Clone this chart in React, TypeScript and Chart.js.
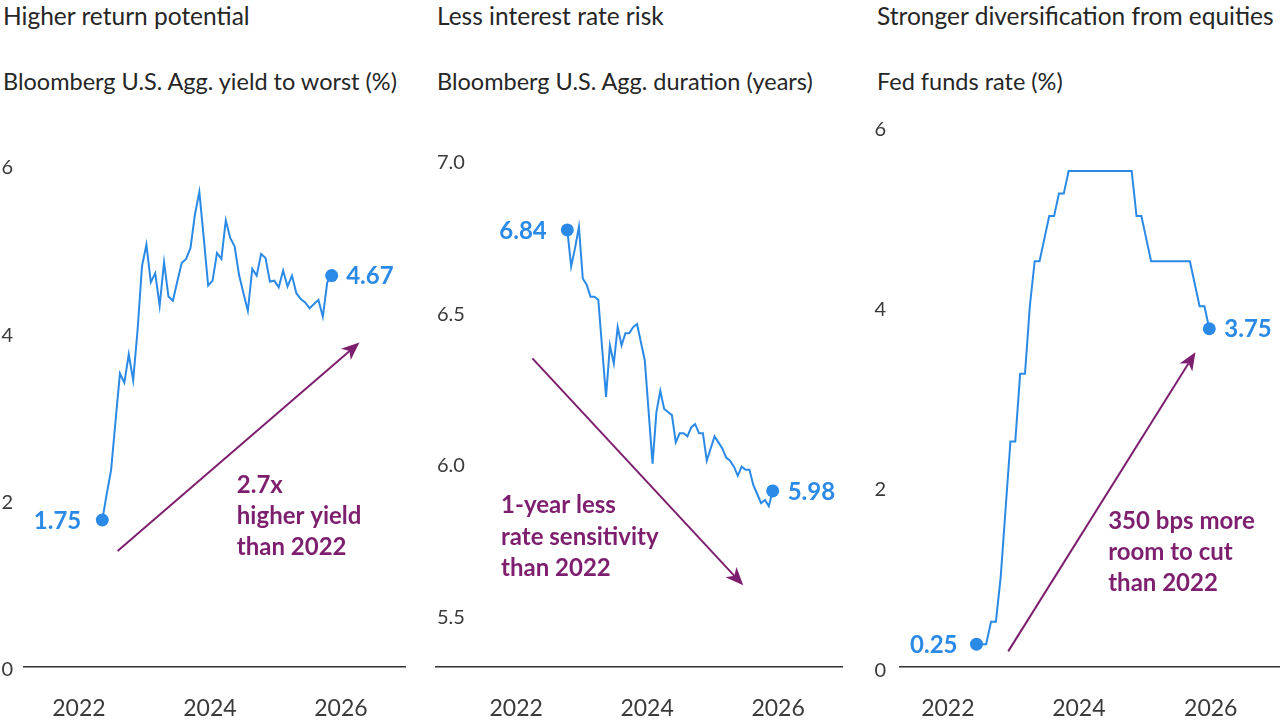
import React, { useEffect, useRef } from 'react';
import { Chart, registerables } from 'chart.js';

Chart.register(...registerables);

const FONT = 'Lato, "Open Sans", sans-serif';
const BLUE = '#2a8ae6';
const PURPLE = '#7d1f6e';
const TITLE_COLOR = '#262626';
const AXIS_TEXT = '#3a3a3a';
const AXIS_LINE = '#333333';

const yearLabels = ['2022', '2024', '2026'];

// Panel 1 – Bloomberg U.S. Agg. yield to worst (%)
const yieldValues = [
  1.75, 2.06, 2.35, 2.93, 3.5, 3.39, 3.73, 3.42, 4.02, 4.78, 5.04, 4.59, 4.7, 4.31, 4.83, 4.42, 4.37, 4.6,
  4.82, 4.87, 5.0, 5.4, 5.67, 5.12, 4.55, 4.61, 4.94, 4.87, 5.33, 5.12, 5.02, 4.68, 4.46, 4.25, 4.75, 4.67,
  4.93, 4.88, 4.6, 4.61, 4.53, 4.73, 4.54, 4.67, 4.46, 4.39, 4.35, 4.28, 4.33, 4.38, 4.18, 4.59, 4.67,
];
const yieldYearTickAt = [-5.3, 24.4, 54.1];
const yieldAxisTicks = [0, 2, 4, 6];

// Panel 2 – Bloomberg U.S. Agg. duration (years)
const durationValues = [
  6.84, 6.72, 6.78, 6.85, 6.68, 6.66, 6.62, 6.62, 6.61, 6.45, 6.29, 6.46, 6.4, 6.52, 6.46, 6.5, 6.5, 6.52,
  6.53, 6.47, 6.41, 6.24, 6.07, 6.24, 6.31, 6.25, 6.24, 6.23, 6.14, 6.17, 6.17, 6.16, 6.19, 6.2, 6.17, 6.17,
  6.08, 6.12, 6.16, 6.14, 6.12, 6.09, 6.08, 6.06, 6.03, 6.06, 6.05, 6.05, 6.0, 5.97, 5.94, 5.95, 5.93, 5.98,
];
const durationYearTickAt = [-13.2, 20.6, 54.4];
const durationAxisTicks = [5.5, 6.0, 6.5, 7.0];

// Panel 3 – Fed funds rate (%), month-end upper bound, Dec 2021 – Dec 2025
const fedFundsValues = [
  0.25, 0.25, 0.25, 0.5, 0.5, 1.0, 1.75, 2.5, 2.5, 3.25, 3.25, 4.0, 4.5, 4.5, 4.75, 5.0, 5.0, 5.25, 5.25,
  5.5, 5.5, 5.5, 5.5, 5.5, 5.5, 5.5, 5.5, 5.5, 5.5, 5.5, 5.5, 5.5, 5.5, 5.0, 5.0, 4.75, 4.5, 4.5, 4.5, 4.5,
  4.5, 4.5, 4.5, 4.5, 4.5, 4.25, 4.0, 4.0, 3.75,
];
const fedYearTickAt = [-5.9, 21.1, 48.3];
const fedAxisTicks = [0, 2, 4, 6];

const titles = ['Higher return potential', 'Less interest rate risk', 'Stronger diversification from equities'];
const subtitles = [
  'Bloomberg U.S. Agg. yield to worst (%)',
  'Bloomberg U.S. Agg. duration (years)',
  'Fed funds rate (%)',
];
const startLabels = ['1.75', '6.84', '0.25'];
const endLabels = ['4.67', '5.98', '3.75'];
const calloutLines = [
  ['2.7x', 'higher yield', 'than 2022'],
  ['1-year less', 'rate sensitivity', 'than 2022'],
  ['350 bps more', 'room to cut', 'than 2022'],
];

type Pt = [number, number];

interface PanelSpec {
  left: number;
  top: number;
  width: number;
  height: number;
  values: number[];
  yearTickAt: number[];
  axisTicks: number[];
  xMin: number;
  xMax: number;
  yMin: number;
  yMax: number;
  padLeft: number;
  padRight: number;
  padTop: number;
  yAxisWidth: number;
  xAxisHeight: number;
  mirror: boolean;
  yTickPadding: number;
  yLabelOffset: number;
  decimals: number;
  arrowFrom: Pt;
  arrowTo: Pt;
  textAt: Pt;
  lineGap: number;
  startGap: number;
  endGap: number;
  textLeft: number;
  idx: number;
}

const panels: PanelSpec[] = [
  {
    idx: 0, left: 0, top: 100, width: 430, height: 620,
    values: yieldValues, yearTickAt: yieldYearTickAt, axisTicks: yieldAxisTicks,
    xMin: -17.75, xMax: 68.74, yMin: 0, yMax: 6,
    padLeft: 0, padRight: 24.5, padTop: 64.3, yAxisWidth: 24, xAxisHeight: 53.5,
    mirror: false, yTickPadding: 11, yLabelOffset: 3.5, decimals: 0,
    arrowFrom: [3.47, 1.38], arrowTo: [58.3, 3.87], textAt: [30.5, 2.16], lineGap: 31,
    startGap: 21, endGap: 14.5, textLeft: 3,
  },
  {
    idx: 1, left: 430, top: 100, width: 430, height: 620,
    values: durationValues, yearTickAt: durationYearTickAt, axisTicks: durationAxisTicks,
    xMin: -33.88, xMax: 70.89, yMin: 5.4, yMax: 7.0,
    padLeft: 6, padRight: 18, padTop: 81.4, yAxisWidth: 0, xAxisHeight: 53,
    mirror: true, yTickPadding: 1, yLabelOffset: -19, decimals: 1,
    arrowFrom: [-9.0, 6.417], arrowTo: [45.4, 5.669], textAt: [-17.1, 5.932], lineGap: 31.6,
    startGap: 20.5, endGap: 15, textLeft: 437,
  },
  {
    idx: 2, left: 860, top: 100, width: 420, height: 620,
    values: fedFundsValues, yearTickAt: fedYearTickAt, axisTicks: fedAxisTicks,
    xMin: -15.77, xMax: 62.58, yMin: 0, yMax: 6,
    padLeft: 0, padRight: 0, padTop: 22, yAxisWidth: 40, xAxisHeight: 53.3,
    mirror: false, yTickPadding: 14, yLabelOffset: 3.5, decimals: 0,
    arrowFrom: [6.54, 0.17], arrowTo: [45.15, 3.49], textAt: [27.15, 1.61], lineGap: 31,
    startGap: 19, endGap: 15, textLeft: 877,
  },
];

function makeAnnotationPlugin(spec: PanelSpec) {
  return {
    id: 'panelAnnotations' + spec.idx,
    afterDatasetsDraw(chart: any) {
      const ctx: CanvasRenderingContext2D = chart.ctx;
      const xs = chart.scales.x;
      const ys = chart.scales.y;
      const meta = chart.getDatasetMeta(0);
      const first = meta.data[0];
      const last = meta.data[meta.data.length - 1];
      ctx.save();

      // value labels next to the end points
      ctx.font = `700 24px ${FONT}`;
      ctx.fillStyle = BLUE;
      ctx.textBaseline = 'middle';
      ctx.textAlign = 'right';
      ctx.fillText(startLabels[spec.idx], first.x - spec.startGap, first.y + 1);
      ctx.textAlign = 'left';
      ctx.fillText(endLabels[spec.idx], last.x + spec.endGap, last.y + 1);

      // arrow
      const x1 = xs.getPixelForValue(spec.arrowFrom[0]);
      const y1 = ys.getPixelForValue(spec.arrowFrom[1]);
      const x2 = xs.getPixelForValue(spec.arrowTo[0]);
      const y2 = ys.getPixelForValue(spec.arrowTo[1]);
      const ang = Math.atan2(y2 - y1, x2 - x1);
      const headLen = 18;
      const headHalf = 7.5;
      const notch = 5;
      const bx = x2 - Math.cos(ang) * headLen;
      const by = y2 - Math.sin(ang) * headLen;
      const nx = x2 - Math.cos(ang) * (headLen - notch);
      const ny = y2 - Math.sin(ang) * (headLen - notch);
      ctx.strokeStyle = PURPLE;
      ctx.lineWidth = 2;
      ctx.beginPath();
      ctx.moveTo(x1, y1);
      ctx.lineTo(nx, ny);
      ctx.stroke();
      ctx.fillStyle = PURPLE;
      ctx.beginPath();
      ctx.moveTo(x2, y2);
      ctx.lineTo(bx + Math.sin(ang) * headHalf, by - Math.cos(ang) * headHalf);
      ctx.lineTo(nx, ny);
      ctx.lineTo(bx - Math.sin(ang) * headHalf, by + Math.cos(ang) * headHalf);
      ctx.closePath();
      ctx.fill();

      // callout text
      ctx.font = `700 24px ${FONT}`;
      ctx.fillStyle = PURPLE;
      ctx.textAlign = 'left';
      ctx.textBaseline = 'middle';
      const tx = xs.getPixelForValue(spec.textAt[0]);
      const ty = ys.getPixelForValue(spec.textAt[1]);
      calloutLines[spec.idx].forEach((line, k) => {
        ctx.fillText(line, tx, ty + k * spec.lineGap);
      });
      ctx.restore();
    },
  };
}

function Panel({ spec }: { spec: PanelSpec }) {
  const ref = useRef<HTMLCanvasElement | null>(null);
  useEffect(() => {
    if (!ref.current) return;
    const n = spec.values.length;
    const chart = new Chart(ref.current, {
      type: 'line',
      data: {
        datasets: [
          {
            data: spec.values.map((v, i) => ({ x: i, y: v })),
            borderColor: BLUE,
            borderWidth: 2,
            backgroundColor: BLUE,
            pointBackgroundColor: BLUE,
            pointBorderWidth: 0,
            pointRadius: (c: any) => (c.dataIndex === 0 || c.dataIndex === n - 1 ? 6.5 : 0),
            pointHoverRadius: 0,
            tension: 0,
            fill: false,
            clip: false as any,
          },
        ],
      },
      options: {
        animation: false,
        responsive: false,
        events: [],
        layout: {
          autoPadding: false,
          padding: { left: spec.padLeft, right: spec.padRight, top: spec.padTop, bottom: 0 },
        },
        plugins: {
          legend: { display: false },
          tooltip: { enabled: false },
        },
        scales: {
          x: {
            type: 'linear',
            min: spec.xMin,
            max: spec.xMax,
            grid: { display: false, drawTicks: false },
            border: { display: true, color: AXIS_LINE, width: 1.5 },
            afterBuildTicks: (scale: any) => {
              scale.ticks = spec.yearTickAt.map((v) => ({ value: v }));
            },
            afterFit: (scale: any) => {
              scale.height = spec.xAxisHeight;
            },
            ticks: {
              autoSkip: false,
              maxRotation: 0,
              padding: 28,
              color: AXIS_TEXT,
              font: { family: FONT, size: 23 },
              callback: (_v: any, i: number) => yearLabels[i],
            },
          },
          y: {
            type: 'linear',
            min: spec.yMin,
            max: spec.yMax,
            grid: { display: false, drawTicks: false },
            border: { display: false },
            afterBuildTicks: (scale: any) => {
              scale.ticks = spec.axisTicks.map((v) => ({ value: v }));
            },
            afterFit: (scale: any) => {
              scale.width = spec.yAxisWidth;
            },
            ticks: {
              mirror: spec.mirror,
              padding: spec.yTickPadding,
              labelOffset: spec.yLabelOffset,
              color: AXIS_TEXT,
              font: { family: FONT, size: 20 },
              callback: (v: any) => Number(v).toFixed(spec.decimals),
            },
          },
        },
      },
      plugins: [makeAnnotationPlugin(spec)],
    } as any);
    let alive = true;
    if ((document as any).fonts && (document as any).fonts.ready) {
      (document as any).fonts.ready.then(() => {
        if (alive) chart.update();
      });
    }
    return () => {
      alive = false;
      chart.destroy();
    };
  }, [spec]);

  return (
    <canvas
      ref={ref}
      width={spec.width}
      height={spec.height}
      style={{ position: 'absolute', left: spec.left, top: spec.top, width: spec.width, height: spec.height }}
    />
  );
}

export default function App() {
  return (
    <div
      style={{
        position: 'absolute',
        left: 0,
        top: 0,
        width: 1280,
        height: 720,
        background: '#ffffff',
        overflow: 'hidden',
        fontFamily: FONT,
      }}
    >
      {panels.map((p) => (
        <React.Fragment key={p.idx}>
          <div
            style={{
              position: 'absolute',
              left: p.textLeft,
              top: 2,
              fontSize: 24.5,
              lineHeight: '28px',
              color: TITLE_COLOR,
              whiteSpace: 'nowrap',
            }}
          >
            {titles[p.idx]}
          </div>
          <div
            style={{
              position: 'absolute',
              left: p.textLeft,
              top: 67,
              fontSize: 23.5,
              lineHeight: '28px',
              color: TITLE_COLOR,
              whiteSpace: 'nowrap',
            }}
          >
            {subtitles[p.idx]}
          </div>
          <Panel spec={p} />
        </React.Fragment>
      ))}
    </div>
  );
}
